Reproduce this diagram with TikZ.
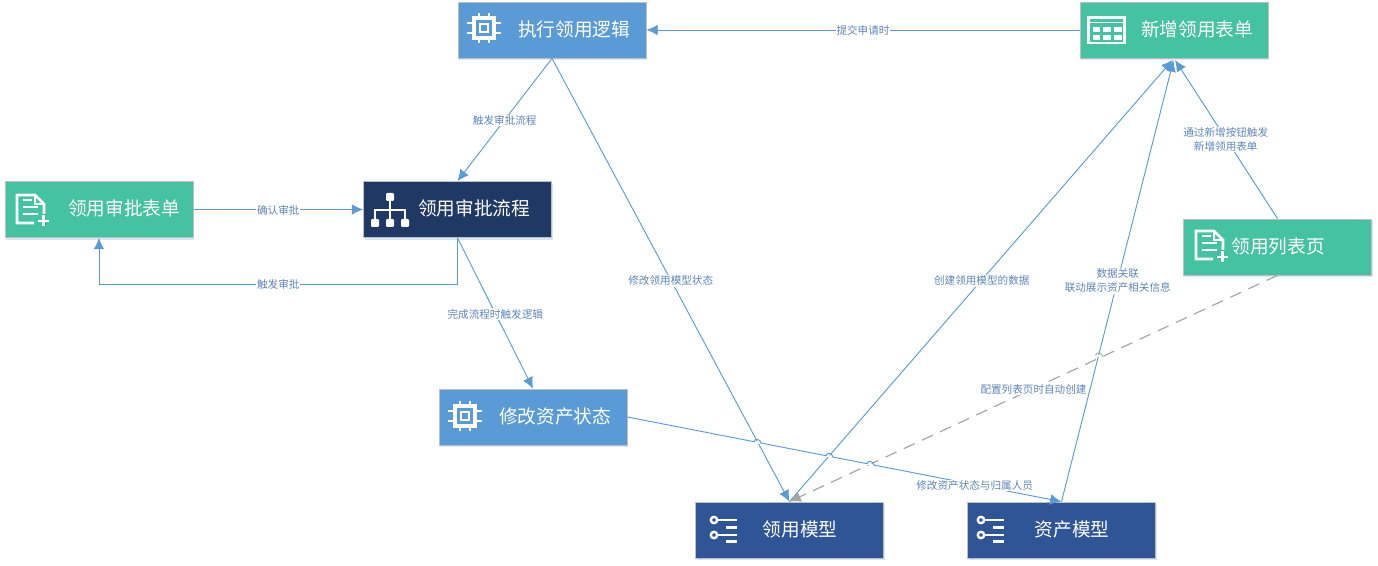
\documentclass[tikz,border=0pt]{standalone}
\usepackage{fontspec}
\setmainfont{Noto Sans CJK SC}
\usetikzlibrary{arrows.meta,shadows}
\definecolor{linkblue}{HTML}{5B9BD5}
\definecolor{linkgray}{HTML}{A6A6A6}
\definecolor{labelblue}{HTML}{5F86BC}
\definecolor{logicblue}{HTML}{5B9BD5}
\definecolor{formgreen}{HTML}{45C2A2}
\definecolor{flownavy}{HTML}{1F3864}
\definecolor{modelblue}{HTML}{2F5597}
\tikzset{
  boxbase/.style={draw=gray!50,line width=.6pt,minimum width=141pt,minimum height=42pt,inner sep=0pt,
    drop shadow={shadow xshift=.8pt,shadow yshift=-1.8pt,fill=linkblue,opacity=.25}},
  logicbox/.style={boxbase,fill=logicblue},
  formbox/.style={boxbase,fill=formgreen},
  flowbox/.style={boxbase,fill=flownavy},
  modelbox/.style={boxbase,fill=modelblue},
  boxtext/.style={text=white,font=\fontsize{14}{16}\selectfont,inner sep=0pt},
  edgetext/.style={text=labelblue,fill=white,font=\fontsize{7.95}{10.5}\selectfont,inner sep=.6pt,align=center,yshift=-.7pt},
  link/.style={draw=linkblue,line width=.7pt,-{Latex[length=8.5pt,width=8pt]}},
  dashlink/.style={draw=linkgray,line width=.9pt,dash pattern=on 9pt off 6pt,-{Latex[length=8.5pt,width=8pt]}},
  chipicon/.pic={
    \draw[white,line width=2.5pt] (-10,-10) rectangle (10,10);
    \draw[white,line width=2.2pt] (-4,-4) rectangle (4,4);
    \foreach \p in {-5,5} {
      \draw[white,line width=2.2pt] (\p,-15) -- (\p,-11);
      \draw[white,line width=2.2pt] (\p,11) -- (\p,15);
      \draw[white,line width=2.2pt] (-17,\p) -- (-11,\p);
      \draw[white,line width=2.2pt] (11,\p) -- (17,\p);
    }
  },
  tableicon/.pic={
    \draw[white,line width=1.6pt] (-18,-12.5) rectangle (18,13);
    \draw[white,line width=1.4pt] (-18,-7.5) -- (18,-7.5);
    \foreach \cx in {-14,-3.6,7.5} {
      \foreach \cy in {-2.5,5} {
        \fill[white] (\cx,\cy) rectangle ++(7.6,5);
      }
    }
  },
  docicon/.pic={
    \draw[white,line width=2pt] (4,13) -- (-13,13) -- (-13,-15) -- (5,-15) -- (14,-6) -- (14,4);
    \draw[white,line width=1.6pt] (5,-15) -- (5,-6) -- (14,-6);
    \draw[white,line width=2pt] (-7,-10) -- (2,-10);
    \draw[white,line width=2pt] (-7,-3) -- (8,-3);
    \draw[white,line width=2pt] (-7,4) -- (8,4);
    \draw[white,line width=2.2pt] (8,11) -- (19,11);
    \draw[white,line width=2.2pt] (13.5,5.5) -- (13.5,16.5);
  },
  treeicon/.pic={
    \draw[white,line width=1.6pt] (0,-12) -- (0,12);
    \draw[white,line width=1.6pt] (-15,12) -- (-15,0) -- (15,0) -- (15,12);
    \foreach \tx/\ty in {0/-13,-15/13,0/13,15/13} {
      \fill[white,rounded corners=.8pt] (\tx-4,\ty-4) rectangle (\tx+4,\ty+4);
    }
  },
  modelicon/.pic={
    \draw[white,line width=1.8pt] (-10,-7.5) circle (3.2);
    \draw[white,line width=1.8pt] (-10,7.5) circle (3.2);
    \draw[white,line width=1.6pt] (-6.5,-7.5) -- (13,-7.5);
    \draw[white,line width=1.6pt] (-6.5,7.5) -- (13,7.5);
    \draw[white,line width=1.6pt] (2,0) -- (13,0);
    \draw[white,line width=1.6pt] (2,14) -- (13,14);
  }
}
\begin{document}
\begin{tikzpicture}[x=.75pt,y=-.75pt]
  \useasboundingbox (0,0) rectangle (1378,566);

  % Boxes
  \node[logicbox] (execlogic) at (552,30) {};
  \node[formbox] (newform) at (1174,30) {};
  \node[formbox] (approveform) at (99,209.5) {};
  \node[flowbox] (approveflow) at (457.5,209.5) {};
  \node[logicbox] (changestate) at (533,417) {};
  \node[formbox] (listpage) at (1277.5,247) {};
  \node[modelbox] (usemodel) at (789.5,530) {};
  \node[modelbox] (assetmodel) at (1061.5,530) {};

  % Box texts
  \node[boxtext] (execlogictext) at (574,29) {执行领用逻辑};
  \node[boxtext] (newformtext) at (1197,29) {新增领用表单};
  \node[boxtext] (approveformtext) at (124,208) {领用审批表单};
  \node[boxtext] (approveflowtext) at (474,208) {领用审批流程};
  \node[boxtext] (changestatetext) at (555,416) {修改资产状态};
  \node[boxtext] (listpagetext) at (1278,246) {领用列表页};
  \node[boxtext] (usemodeltext) at (800,529) {领用模型};
  \node[boxtext] (assetmodeltext) at (1072,529) {资产模型};

  % Icons
  \pic at (484,28) {chipicon};
  \pic at (465,416) {chipicon};
  \pic at (1106.5,30) {tableicon};
  \pic at (30,210) {docicon};
  \pic at (1209,246) {docicon};
  \pic at (390,210) {treeicon};
  \pic at (724,527.5) {modelicon};
  \pic at (991,527.5) {modelicon};

  % Connectors
  \draw[link] (newform.west) -- node[edgetext] (submitlabel) {提交申请时} (execlogic.east);
  \draw[link] (execlogic.south) -- node[edgetext] (triggerflowlabel) {触发审批流程} (approveflow.north);
  \draw[link] (execlogic.south) -- node[edgetext] (changemodellabel) {修改领用模型状态} (usemodel.north);
  \draw[link] (approveform.east) -- node[edgetext] (confirmlabel) {确认审批} (approveflow.west);
  \draw[link] (approveflow.south) -- (457.5,284) -- node[edgetext] (triggerlabel) {触发审批} (99,284) -- (approveform.south);
  \draw[link] (approveflow.south) -- node[edgetext] (finishlabel) {完成流程时触发逻辑} (changestate.north);
  \draw[link] (changestate.east) -- node[edgetext,pos=.8] (assetstatelabel) {修改资产状态与归属人员} (assetmodel.north);
  \draw[link,shorten >=1.5pt] (usemodel.north) -- node[edgetext] (createlabel) {创建领用模型的数据} (newform.south);
  \draw[link,shorten >=1.5pt] (assetmodel.north) -- node[edgetext] (relationlabel) {数据关联\\联动展示资产相关信息} (newform.south);
  \draw[link,shorten >=1.5pt] (listpage.north) -- node[edgetext] (buttonlabel) {通过新增按钮触发\\新增领用表单} (newform.south);
  \draw[dashlink] (listpage.south) -- node[edgetext] (configlabel) {配置列表页时自动创建} (usemodel.north);

  % Line jumps
  \foreach \bx/\by/\bc in {757.5/442.4/linkblue,829.5/456.4/linkblue,870.5/464.4/linkblue,1099/356/linkgray} {
    \draw[white,line width=1.6pt] (\bx-3,\by-.6) -- (\bx+3,\by+.6);
    \draw[\bc,line width=.7pt] (\bx-3.5,\by-.7) .. controls (\bx-3,\by-4.5) and (\bx+3,\by-3.5) .. (\bx+3.5,\by+.7);
  }
\end{tikzpicture}
\end{document}
